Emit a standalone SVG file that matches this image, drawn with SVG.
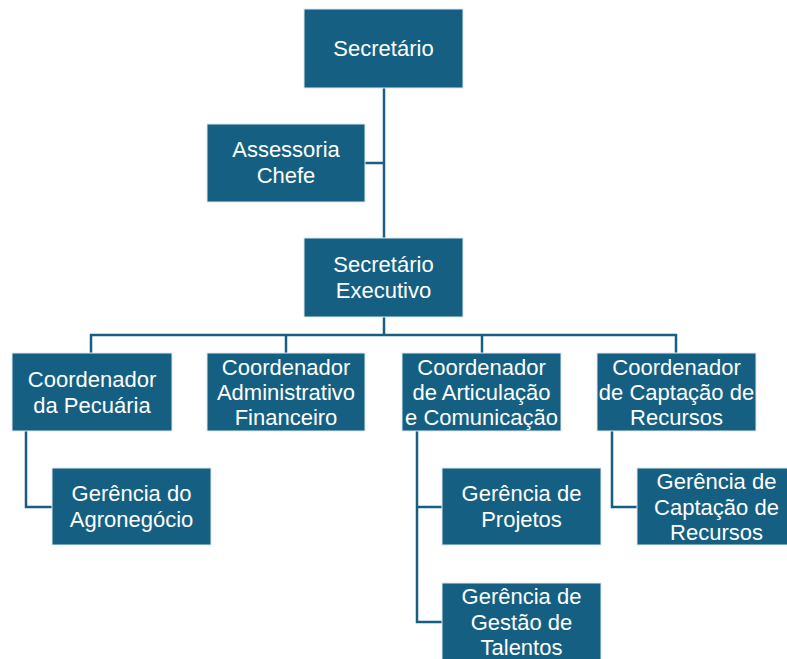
<svg xmlns="http://www.w3.org/2000/svg" width="787" height="659" viewBox="0 0 787 659">
<style>
.box{fill:#156082;stroke:#dfe8ee;stroke-width:1}
.t{font-family:"Liberation Sans",Arial,sans-serif;font-size:22px;fill:#ffffff;text-anchor:middle}
.c{fill:none;stroke:#156082;stroke-width:2.5}
</style>
<rect width="787" height="659" fill="#ffffff"/>
<g id="connectors">
<path class="c" d="M384,88 V238"/>
<path class="c" d="M365,163 H384"/>
<path class="c" d="M384,317 V335"/>
<path class="c" d="M91,353 V335 H676 V353"/>
<path class="c" d="M286,335 V353"/>
<path class="c" d="M482,335 V353"/>
<path class="c" d="M26,431 V507 H52"/>
<path class="c" d="M417,431 V622 H442"/>
<path class="c" d="M417,507 H442"/>
<path class="c" d="M612,431 V507 H637"/>
</g>
<g id="secretario">
<rect class="box" x="304" y="9" width="159" height="79"/>
<text class="t" x="383.5" y="56">Secretário</text>
</g>
<g id="assessoria">
<rect class="box" x="207" y="124" width="158" height="78"/>
<text class="t" x="286" y="157">Assessoria</text>
<text class="t" x="286" y="183">Chefe</text>
</g>
<g id="secretario-executivo">
<rect class="box" x="304" y="238" width="159" height="79"/>
<text class="t" x="383.5" y="272">Secretário</text>
<text class="t" x="383.5" y="298">Executivo</text>
</g>
<g id="coord-pecuaria">
<rect class="box" x="12" y="353" width="160" height="78"/>
<text class="t" x="92" y="387">Coordenador</text>
<text class="t" x="92" y="413">da Pecuária</text>
</g>
<g id="coord-adm">
<rect class="box" x="207" y="353" width="158" height="78"/>
<text class="t" x="286" y="375">Coordenador</text>
<text class="t" x="286" y="400">Administrativo</text>
<text class="t" x="286" y="425">Financeiro</text>
</g>
<g id="coord-articulacao">
<rect class="box" x="402" y="353" width="159" height="78"/>
<text class="t" x="481.5" y="375">Coordenador</text>
<text class="t" x="481.5" y="400">de Articulação</text>
<text class="t" x="481.5" y="425">e Comunicação</text>
</g>
<g id="coord-captacao">
<rect class="box" x="597" y="353" width="159" height="78"/>
<text class="t" x="676.5" y="375">Coordenador</text>
<text class="t" x="676.5" y="400">de Captação de</text>
<text class="t" x="676.5" y="425">Recursos</text>
</g>
<g id="ger-agronegocio">
<rect class="box" x="52" y="468" width="159" height="77"/>
<text class="t" x="131.5" y="501">Gerência do</text>
<text class="t" x="131.5" y="527">Agronegócio</text>
</g>
<g id="ger-projetos">
<rect class="box" x="442" y="468" width="159" height="77"/>
<text class="t" x="521.5" y="501">Gerência de</text>
<text class="t" x="521.5" y="527">Projetos</text>
</g>
<g id="ger-talentos">
<rect class="box" x="442" y="583" width="159" height="78"/>
<text class="t" x="521.5" y="604">Gerência de</text>
<text class="t" x="521.5" y="630">Gestão de</text>
<text class="t" x="521.5" y="655">Talentos</text>
</g>
<g id="ger-captacao">
<rect class="box" x="637" y="468" width="159" height="77"/>
<text class="t" x="716.5" y="489">Gerência de</text>
<text class="t" x="716.5" y="515">Captação de</text>
<text class="t" x="716.5" y="540">Recursos</text>
</g>
</svg>
